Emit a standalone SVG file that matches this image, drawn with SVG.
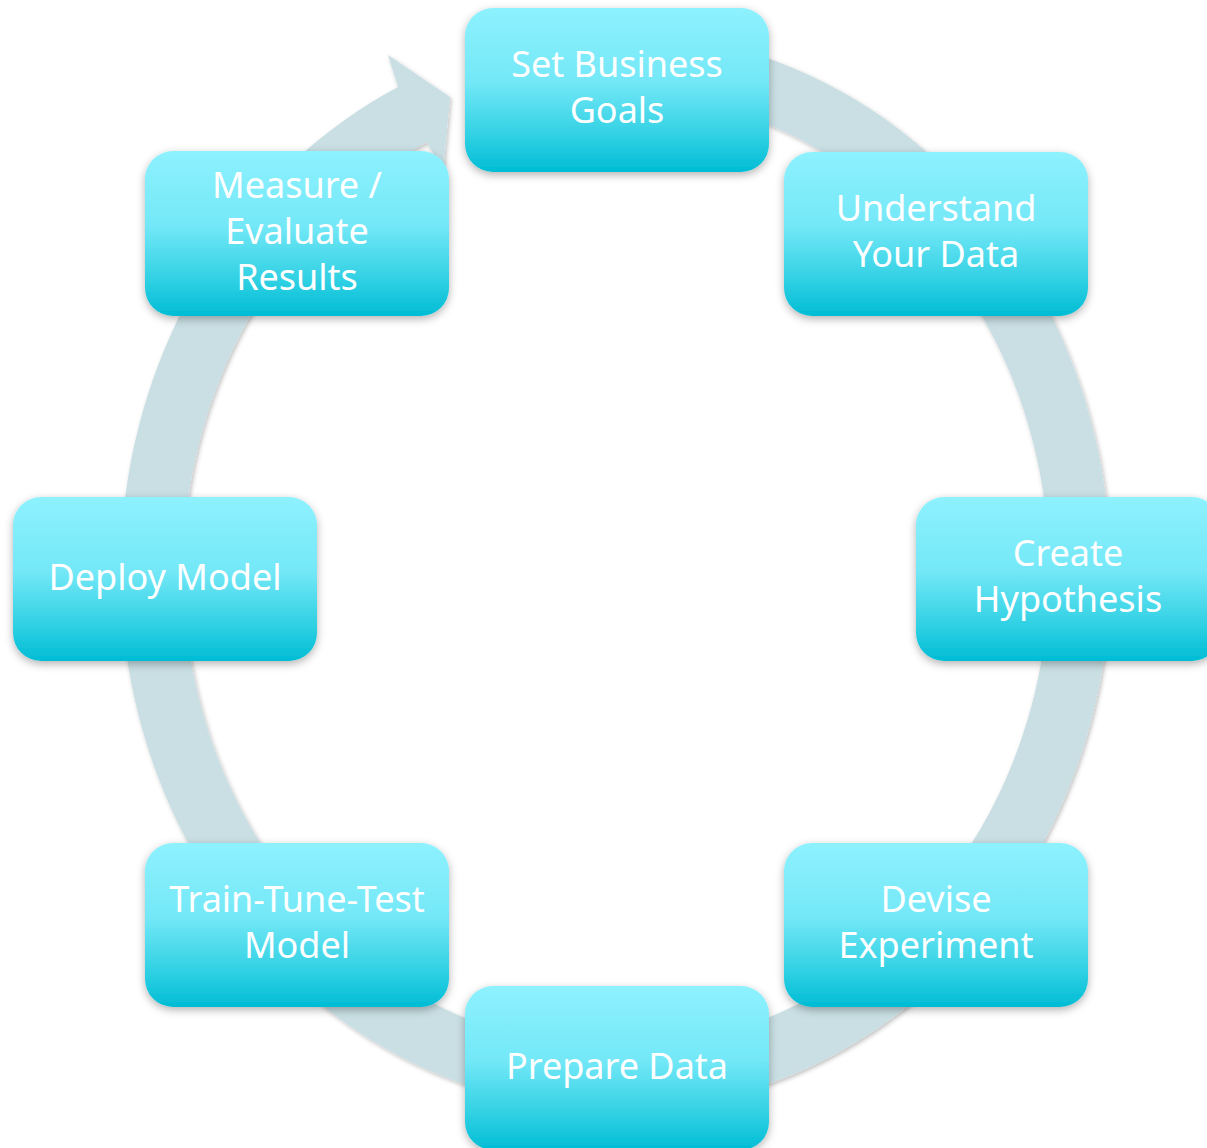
<svg xmlns="http://www.w3.org/2000/svg" width="1207" height="1148" viewBox="0 0 1207 1148">
<style>
.box{fill:url(#g);filter:url(#bs)}
.t{font-family:"Noto Sans","Open Sans",sans-serif;font-size:36px;fill:#ffffff;text-anchor:middle}
</style>
<defs>
<linearGradient id="g" x1="0" y1="0" x2="0" y2="1">
<stop offset="0" stop-color="#8ef1fe"/>
<stop offset="0.45" stop-color="#74e8f7"/>
<stop offset="0.8" stop-color="#2ccfe2"/>
<stop offset="1" stop-color="#00bcd5"/>
</linearGradient>
<filter id="bs" x="-10%" y="-10%" width="120%" height="125%">
<feDropShadow dx="0" dy="3" stdDeviation="4" flood-color="#000" flood-opacity="0.3"/>
</filter>
<filter id="rs" x="-5%" y="-5%" width="110%" height="110%">
<feDropShadow dx="1.5" dy="2" stdDeviation="2" flood-color="#000" flood-opacity="0.25"/>
</filter>
</defs>
<rect width="1207" height="1148" fill="#ffffff"/>
<g id="connectors">
<path d="M520 42.3 A495 539 0 1 1 398 87 L388 55 L450 97 L443 172 L427 142 A433 477 0 1 0 520 106 Z" fill="#c9dfe4" filter="url(#rs)"/>
</g>
<g id="n1"><rect class="box" x="465" y="8" width="304" height="164" rx="28"/><text class="t" x="617" y="77">Set Business</text><text class="t" x="617" y="123">Goals</text></g>
<g id="n2"><rect class="box" x="784" y="152" width="304" height="164" rx="28"/><text class="t" x="936" y="221">Understand</text><text class="t" x="936" y="267">Your Data</text></g>
<g id="n3"><rect class="box" x="916" y="497" width="304" height="164" rx="28"/><text class="t" x="1068" y="566">Create</text><text class="t" x="1068" y="612">Hypothesis</text></g>
<g id="n4"><rect class="box" x="784" y="843" width="304" height="164" rx="28"/><text class="t" x="936" y="912">Devise</text><text class="t" x="936" y="958">Experiment</text></g>
<g id="n5"><rect class="box" x="465" y="986" width="304" height="164" rx="28"/><text class="t" x="617" y="1079">Prepare Data</text></g>
<g id="n6"><rect class="box" x="145" y="843" width="304" height="164" rx="28"/><text class="t" x="297" y="912">Train-Tune-Test</text><text class="t" x="297" y="958">Model</text></g>
<g id="n7"><rect class="box" x="13" y="497" width="304" height="164" rx="28"/><text class="t" x="165" y="590">Deploy Model</text></g>
<g id="n8"><rect class="box" x="145" y="151" width="304" height="165" rx="28"/><text class="t" x="297" y="198">Measure /</text><text class="t" x="297" y="244">Evaluate</text><text class="t" x="297" y="290">Results</text></g>
</svg>
